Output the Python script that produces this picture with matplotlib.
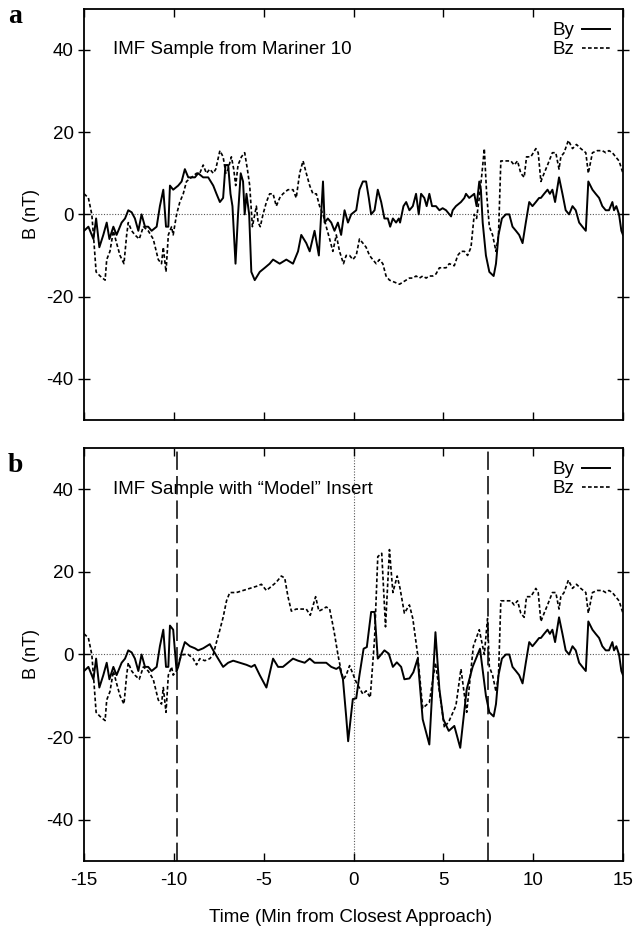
import matplotlib
matplotlib.use('Agg')
import matplotlib.pyplot as plt
import numpy as np

## IMF sample from Mariner 10 (panel a)
t_by_a = [-15.0, -14.76, -14.48, -14.33, -14.15, -13.93, -13.74, -13.59, -13.37, -13.19,
          -12.91, -12.72, -12.54, -12.35, -12.17, -11.98, -11.80, -11.61, -11.43, -11.24,
          -10.96, -10.78, -10.59, -10.44, -10.31, -10.22, -10.04, -9.76, -9.57, -9.39,
          -9.20, -9.02, -8.83, -8.65, -8.37, -8.09, -7.81, -7.63, -7.44, -7.26,
          -7.13, -6.98, -6.85, -6.74, -6.57, -6.43, -6.28, -6.15, -6.06, -5.96,
          -5.81, -5.69, -5.50, -5.22, -4.94, -4.67, -4.48, -4.11, -3.74, -3.37,
          -3.09, -2.91, -2.63, -2.44, -2.17, -1.93, -1.70, -1.61, -1.43, -1.24,
          -1.06, -0.87, -0.69, -0.50, -0.31, -0.13, 0.15, 0.33, 0.52, 0.70,
          0.85, 0.98, 1.17, 1.35, 1.54, 1.72, 1.91, 2.04, 2.19, 2.37,
          2.52, 2.59, 2.78, 2.93, 3.11, 3.30, 3.48, 3.63, 3.76, 3.94,
          4.07, 4.22, 4.37, 4.59, 4.78, 4.96, 5.15, 5.43, 5.52, 5.70,
          5.98, 6.17, 6.26, 6.44, 6.72, 6.85, 7.00, 7.09, 7.19, 7.37,
          7.56, 7.80, 7.93, 8.07, 8.26, 8.48, 8.67, 8.85, 9.04, 9.22,
          9.41, 9.59, 9.78, 9.96, 10.15, 10.33, 10.43, 10.61, 10.80, 10.93,
          11.07, 11.22, 11.44, 11.63, 11.81, 12.00, 12.19, 12.37, 12.56, 12.74,
          12.93, 13.07, 13.30, 13.48, 13.67, 13.85, 14.04, 14.22, 14.41, 14.50,
          14.63, 14.78, 14.91, 15.0]
by_a = [-4, -3, -6, -1, -8, -5, -2, -6, -3, -5,
        -2, -1, 1, 0.5, -1, -4, 0, -3, -3, -4,
        -3, 2, 6, -3, -3, 7, 6, 7, 8, 11,
        9, 9, 9, 10, 9, 9, 7, 5, 3, 4,
        12, 12, 5, 2, -12, 0, 10, 8, 0, 5,
        0, -14, -16, -14, -13, -12, -11, -12, -11, -12,
        -9, -5, -7, -9, -4, -10, 8, -2, -1, -2,
        -4, -2, -5, 1, -2, 0, 1, 6, 8, 8,
        4, 0, 1, 6, 3, -1, -1, -3, -1, -2,
        -1, -2, 2, 3, 1, 2, 5, 0, 5, 4,
        2, 5, 2, 2, 1, 1.5, 1, -0.5, 1, 2,
        3, 4, 5, 4, 5, 2, 8, 6, -2, -10,
        -14, -15, -12, -5, -1, 0, 0, -3, -4, -5,
        -7, -2, 3, 2, 3, 4, 4, 5, 6, 5,
        6, 3, 9, 5, 1, 0, 2, 1, -2, -3,
        -4, 8, 6, 5, 4, 2, 1, 1, 3, 1,
        2, 0, -4, -5]

t_bz_a = [-15.0, -14.76, -14.57, -14.48, -14.33, -14.11, -13.83, -13.74, -13.56, -13.37,
          -13.19, -13.00, -12.78, -12.63, -12.54, -12.35, -12.17, -11.93, -11.70, -11.43,
          -11.15, -10.87, -10.69, -10.59, -10.44, -10.31, -10.13, -10.04, -9.85, -9.67,
          -9.48, -9.30, -9.02, -8.74, -8.56, -8.37, -8.19, -8.00, -7.81, -7.67,
          -7.44, -7.26, -7.11, -6.98, -6.80, -6.67, -6.56, -6.43, -6.24, -6.06,
          -5.91, -5.78, -5.63, -5.54, -5.41, -5.31, -5.19, -5.04, -4.85, -4.67,
          -4.48, -4.30, -4.11, -3.93, -3.65, -3.37, -3.19, -3.00, -2.81, -2.63,
          -2.44, -2.26, -2.07, -1.89, -1.70, -1.52, -1.33, -1.15, -0.96, -0.78,
          -0.56, -0.41, -0.22, -0.04, 0.15, 0.33, 0.52, 0.70, 0.89, 1.07,
          1.26, 1.44, 1.63, 1.81, 2.00, 2.28, 2.56, 2.74, 2.93, 3.11,
          3.30, 3.48, 3.67, 3.85, 4.04, 4.22, 4.41, 4.59, 4.78, 4.96,
          5.15, 5.33, 5.61, 5.80, 5.98, 6.17, 6.35, 6.54, 6.72, 6.85,
          7.00, 7.15, 7.28, 7.41, 7.56, 7.74, 7.93, 8.07, 8.20, 8.39,
          8.57, 8.76, 8.94, 9.13, 9.31, 9.50, 9.63, 9.87, 10.15, 10.28,
          10.43, 10.61, 10.80, 11.07, 11.26, 11.44, 11.54, 11.72, 11.96, 12.19,
          12.41, 12.65, 12.93, 13.07, 13.30, 13.57, 13.85, 14.04, 14.22, 14.41,
          14.59, 14.78, 14.93, 15.0]
bz_a = [5, 4, 0, -5, -14, -15, -16, -11, -9, -4,
        -7, -10, -12, -5, -2, -4, -5, -6, -3, -4,
        -6, -11, -12, -8, -14, -5, -3, -5, 0, 3,
        5, 8, 9, 10, 10, 12, 10, 11, 10, 11,
        15.5, 14, 10, 11, 14, 11, 7, 12, 14, 15,
        11, 7, -3, -1, 2, -2, -3, 0, 3, 5,
        5, 2, 4, 5, 6, 6, 4, 10, 13, 10,
        7, 5, 5, 2, 0, -3, -6, -9, -5, -9,
        -12, -10, -10, -11, -10, -6, -7, -8, -10, -11,
        -12, -11, -12, -15, -16, -16.5, -17, -16.5, -16, -15.5,
        -15.5, -15, -15.5, -15, -15.5, -15, -15, -14.5, -13, -13,
        -13, -12, -12.5, -10, -9, -9, -10, -8, 0, -1,
        4, 10, 16, 5, -3, -5, -9, -5, 13, 13,
        13, 13, 12, 13, 10, 9, 14, 14, 16, 15,
        8, 10, 12, 15, 15, 11, 14, 15, 18, 16,
        17, 16, 15, 10, 15, 15.5, 15.5, 15, 15.5, 15,
        14, 13, 11, 10]

## "Model" insert (panel b), replaces the data between the dashed lines
insert_start = -9.85
insert_end = 7.5

t_by_ins = [-9.85, -9.76, -9.57, -9.39, -9.11, -8.83, -8.65, -8.37, -8.19, -8.00,
            -7.81, -7.54, -7.26, -6.98, -6.70, -6.33, -5.96, -5.69, -5.50, -5.22,
            -4.85, -4.48, -4.20, -3.93, -3.65, -3.37, -3.09, -2.72, -2.44, -2.17,
            -1.89, -1.52, -1.24, -0.96, -0.78, -0.59, -0.41, -0.30, -0.04, 0.15,
            0.33, 0.56, 0.74, 0.98, 1.17, 1.35, 1.72, 1.96, 2.19, 2.41,
            2.65, 2.83, 3.11, 3.33, 3.57, 3.85, 4.22, 4.56, 4.78, 5.00,
            5.30, 5.61, 5.94, 6.30, 6.63, 7.04, 7.37]
by_ins = [-4, -3, 0.5, 3, 2, 1.5, 1, 1.5, 2, 2.5,
          1, -1, -3, -2, -1.5, -2, -2.5, -3, -2.5, -5,
          -8, -1, -3, -3, -2, -1, -1.5, -2, -1, -2,
          -2, -2, -3, -3.5, -3, -6, -15, -21, -10.8, -10.6,
          -5, 1.4, 1.8, 10.3, 10.3, -1, 1, 0.2, -3, -1.9,
          -3, -6, -5.8, -4.3, -1, -15.7, -21.8, 5.4, -8.4, -15.7,
          -18.5, -17.3, -22.6, -8.4, -3, 1.4, -10]

t_bz_ins = [-9.85, -9.67, -9.48, -9.20, -8.93, -8.74, -8.56, -8.28, -8.00, -7.81,
            -7.63, -7.44, -7.26, -7.07, -6.89, -6.52, -6.15, -5.78, -5.41, -5.13,
            -4.85, -4.57, -4.30, -4.02, -3.83, -3.65, -3.46, -3.19, -2.91, -2.63,
            -2.41, -2.11, -1.93, -1.70, -1.52, -1.33, -1.19, -1.06, -0.87, -0.69,
            -0.56, -0.41, -0.22, 0.15, 0.52, 0.70, 0.93, 1.17, 1.35, 1.57,
            1.78, 2.00, 2.19, 2.43, 2.59, 2.83, 3.11, 3.30, 3.57, 3.85,
            4.22, 4.56, 5.06, 5.33, 5.70, 5.98, 6.30, 6.67, 7.00, 7.28,
            7.46]
bz_ins = [-4, -1, 0, 0, -1, -2.5, -1, -1.5, -1, 0,
          3, 6, 9, 13, 15, 15, 15.5, 16, 16.5, 17,
          15.5, 16.5, 17.5, 19, 18.5, 14, 10.5, 11, 11, 11,
          9.5, 14, 10.5, 11, 11.5, 11, 8, 5, 0, -4,
          -6, -5, -2.7, -6.7, -9.6, -8.8, -10.4, 3.8, 23.7, 24.5,
          6.7, 25.4, 15, 19, 16, 10, 12, 8.7, 0, -13,
          -11.6, -2, -17.7, -16, -12.4, -3.5, -14, 2, 6, 0,
          8.7]

x_ticks = [-15, -10, -5, 0, 5, 10, 15]
y_ticks = [-40, -20, 0, 20, 40]


def splice(t_base, v_base, t_ins, v_ins):
    t_base = np.array(t_base)
    v_base = np.array(v_base)
    left = t_base < insert_start
    right = t_base > insert_end
    t = np.concatenate([t_base[left], t_ins, t_base[right]])
    v = np.concatenate([v_base[left], v_ins, v_base[right]])
    return t, v


def style_axes(ax):
    ax.set_xlim(-15, 15)
    ax.set_ylim(-50, 50)
    ax.set_xticks(x_ticks)
    ax.set_yticks(y_ticks)
    ax.tick_params(axis='both', direction='in', top=True, right=True,
                   length=6, width=1.0, labelsize=13.5)
    ax.tick_params(axis='x', pad=8)
    ax.tick_params(axis='y', left=True, direction='inout', length=9, pad=3)
    for s in ax.spines.values():
        s.set_linewidth(1.3)
    ax.axhline(0, color='0.35', linestyle=(0, (1, 1.5)), linewidth=0.8, zorder=1)
    ax.set_ylabel("B (nT)", fontsize=13)
    ax.yaxis.set_label_coords(-0.082, 0.5)


plt.rcParams['font.family'] = ['Liberation Sans', 'DejaVu Sans']
plt.rcParams['axes.unicode_minus'] = False

fig = plt.figure(figsize=(6.37, 9.31), dpi=100)
ax_a = fig.add_axes([0.132, 0.549, 0.846, 0.4415])
ax_b = fig.add_axes([0.132, 0.0752, 0.846, 0.4436])

# Panel a
ax_a.plot(t_by_a, by_a, color='black', linewidth=1.4, label="By")
ax_a.plot(t_bz_a, bz_a, color='black', linewidth=1.2, linestyle=(0, (2.2, 1.4)), label="Bz")
style_axes(ax_a)
ax_a.set_xticklabels([])
ax_a.text(-13.4, 40, "IMF Sample from Mariner 10", fontsize=13.5, va='center', ha='left')
ax_a.legend(loc='upper right', frameon=False, markerfirst=False, fontsize=13.5,
            handlelength=1.5, handletextpad=0.4, labelspacing=0.1,
            borderaxespad=0.3)

# Panel b
t_by_b, by_b = splice(t_by_a, by_a, t_by_ins, by_ins)
t_bz_b, bz_b = splice(t_bz_a, bz_a, t_bz_ins, bz_ins)
ax_b.plot(t_by_b, by_b, color='black', linewidth=1.4, label="By")
ax_b.plot(t_bz_b, bz_b, color='black', linewidth=1.2, linestyle=(0, (2.2, 1.4)), label="Bz")
style_axes(ax_b)
ax_b.axvline(0, color='0.35', linestyle=(0, (1, 1.5)), linewidth=0.8, zorder=1)
ax_b.axvline(insert_start, color='black', linestyle=(0, (12, 4)), linewidth=1.1)
ax_b.axvline(insert_end, color='black', linestyle=(0, (12, 4)), linewidth=1.1)
ax_b.text(-13.4, 40, "IMF Sample with \u201cModel\u201d Insert", fontsize=13.5, va='center', ha='left')
ax_b.legend(loc='upper right', frameon=False, markerfirst=False, fontsize=13.5,
            handlelength=1.5, handletextpad=0.4, labelspacing=0.1,
            borderaxespad=0.3)
fig.text(0.55, 1 - 918 / 931, "Time (Min from Closest Approach)", fontsize=13.5,
         ha='center', va='center')

# Panel letters
fig.text(0.012, 0.982, "a", fontsize=20, fontweight='bold', family='Liberation Serif', va='center')
fig.text(0.012, 0.500, "b", fontsize=20, fontweight='bold', family='Liberation Serif', va='center')

fig.savefig("out.png", dpi=100)
plt.close()
